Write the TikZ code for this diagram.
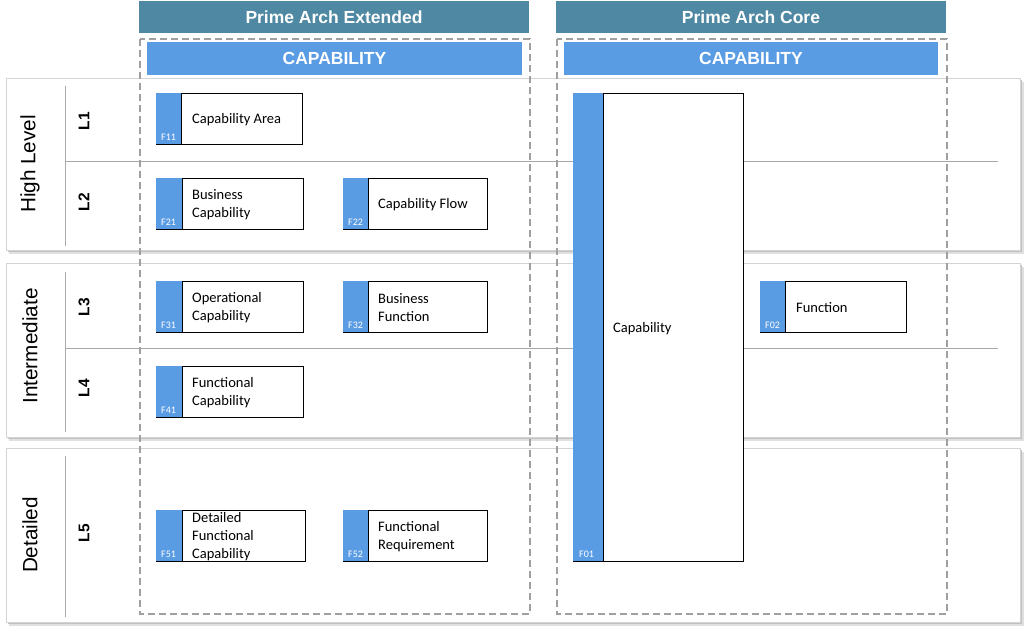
\documentclass[tikz,border=0pt]{standalone}
\usepackage{fontspec}
\setmainfont{Carlito}
\newfontfamily\arialf{Liberation Sans}
\definecolor{hdrteal}{HTML}{4E88A2}
\definecolor{capblue}{HTML}{5A9CE4}
\definecolor{dashgray}{HTML}{A0A0A0}
\definecolor{linegray}{HTML}{A8A8A8}
\definecolor{bandborder}{HTML}{D4D4D4}
\tikzset{
  hdr/.style={fill=hdrteal, text=white, inner sep=0pt, outer sep=0pt, font=\arialf\bfseries\fontsize{17.5}{20}\selectfont},
  capbar/.style={fill=capblue, text=white, inner sep=0pt, outer sep=0pt, font=\arialf\bfseries\fontsize{17.5}{20}\selectfont},
  dashbox/.style={draw=dashgray, line width=2.2pt, dash pattern=on 7pt off 4pt},
  lvl/.style={rotate=90, font=\arialf\fontsize{20.7}{24}\selectfont, inner sep=0pt},
  lnum/.style={rotate=90, font=\arialf\bfseries\fontsize{15.5}{18}\selectfont, inner sep=0pt},
  cbox/.style={draw=black, line width=0.8pt, fill=white, inner sep=0pt, outer sep=0pt},
  ctext/.style={anchor=west, align=left, inner sep=0pt, font=\fontsize{14.5}{18}\selectfont},
  ccode/.style={anchor=south west, inner sep=0pt, text=white, font=\fontsize{10}{11}\selectfont},
  divline/.style={draw=linegray, line width=0.8pt}
}
% name, x1, y1, x2, y2, code, text, strip width, text offset
\newcommand\capbx[9]{%
  \node[cbox, minimum width={#4-#2}, minimum height={#5-#3}] (#1) at ({(#2+#4)/2},{(#3+#5)/2}) {};
  \fill[capblue] ([xshift=0.4pt,yshift=-0.4pt]#1.north west) rectangle ([xshift=#8pt,yshift=0.4pt]#1.south west);
  \draw[black, line width=0.8pt] ([xshift=#8pt]#1.north west) -- ([xshift=#8pt]#1.south west);
  \node[ccode] (#1c) at ([xshift=5pt,yshift=3pt]#1.south west) {#6};
  \node[ctext] (#1t) at ([xshift=#9pt,yshift=-1.5pt]#1.west) {#7};
}
\begin{document}
\begin{tikzpicture}[x=1pt,y=-1pt]
\useasboundingbox (0,0) rectangle (1028,631);
\fill[white] (0,0) rectangle (1028,631);
% bands with shadow
\foreach \a/\b in {78/250,263/437,448/622}{
  \fill[black!12] (9,\a+4) rectangle (1024,\b+4);
  \fill[black!24] (8,\a+2) rectangle (1022,\b+2);
  \draw[bandborder, fill=white, line width=0.8pt] (6,\a) rectangle (1020,\b);
}
% vertical lines in label column
\draw[divline] (65,86) -- (65,246);
\draw[divline] (65,272) -- (65,432);
\draw[divline] (65,456) -- (65,617);
% horizontal dividers
\draw[divline] (65,161) -- (998,161);
\draw[divline] (65,348) -- (998,348);
% level labels
\node[lvl] (hl) at (30,164) {High Level};
\node[lvl] (im) at (30,346) {Intermediate};
\node[lvl] (dt) at (30,535) {Detailed};
\node[lnum] (l1) at (84,121) {L1};
\node[lnum] (l2) at (84,202) {L2};
\node[lnum] (l3) at (84,307) {L3};
\node[lnum] (l4) at (84,388) {L4};
\node[lnum] (l5) at (84,533) {L5};
% dashed boxes
\draw[dashbox] (140,39) rectangle (530,614);
\draw[dashbox] (557,39) rectangle (947,614);
% headers
\node[hdr, minimum width=390, minimum height=32] (hext) at (334,17) {Prime Arch Extended};
\node[hdr, minimum width=390, minimum height=32] (hcore) at (751,17) {Prime Arch Core};
\node[capbar, minimum width=375, minimum height=33] (cext) at (334.5,58.5) {CAPABILITY};
\node[capbar, minimum width=374, minimum height=33] (ccore) at (751,58.5) {CAPABILITY};
% boxes
\capbx{f11}{156}{93}{302}{144}{F11}{Capability Area}{25}{36}
\capbx{f21}{156}{178}{303}{229}{F21}{Business\\Capability}{26}{36}
\capbx{f22}{343}{178}{487}{229}{F22}{Capability Flow}{25}{35}
\capbx{f31}{156}{281}{303}{332}{F31}{Operational\\Capability}{26}{36}
\capbx{f32}{343}{281}{487}{332}{F32}{Business\\Function}{25}{35}
\capbx{f41}{156}{366}{303}{417}{F41}{Functional\\Capability}{26}{36}
\capbx{f51}{156}{510}{305}{561}{F51}{Detailed\\Functional\\Capability}{26}{36}
\capbx{f52}{343}{510}{487}{561}{F52}{Functional\\Requirement}{25}{35}
\capbx{f02}{760}{281}{906}{332}{F02}{Function}{25}{36}
% core big box
\node[cbox, minimum width=170, minimum height=468] (f01) at (658,327) {};
\fill[capblue] ([xshift=0.4pt,yshift=-0.4pt]f01.north west) rectangle ([xshift=30pt,yshift=0.4pt]f01.south west);
\draw[black, line width=0.8pt] ([xshift=30pt]f01.north west) -- ([xshift=30pt]f01.south west);
\node[ccode] (f01c) at ([xshift=6pt,yshift=3pt]f01.south west) {F01};
\node[ctext] (f01t) at (613,328.5) {Capability};
\end{tikzpicture}
\end{document}
